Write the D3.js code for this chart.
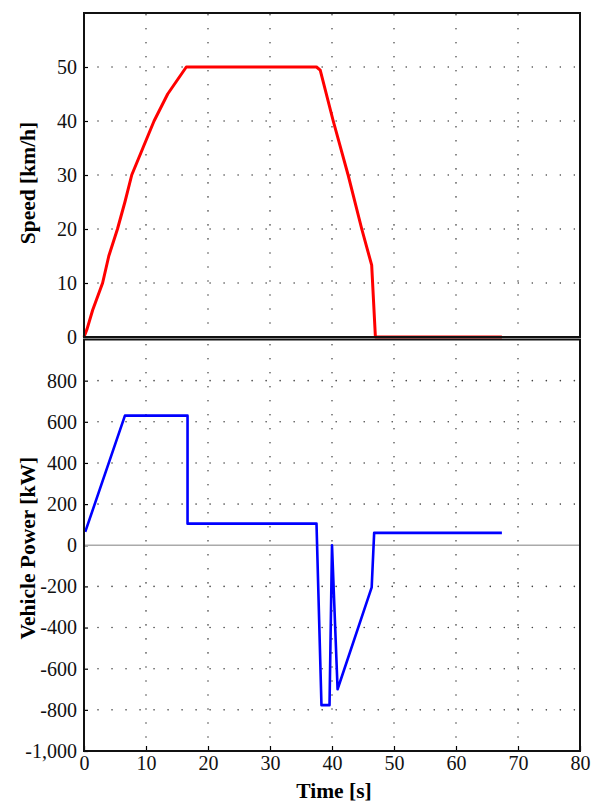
<!DOCTYPE html>
<html>
<head>
<meta charset="utf-8">
<script src="https://cdn.jsdelivr.net/npm/d3@7"></script>
<style>
  body { margin: 0; background: #fff; }
  svg { display: block; }
  svg text { font-family: "Liberation Serif", "Times New Roman", serif; }
</style>
</head>
<body>
<svg id="chart"></svg>
<script>
// speed trace (top panel)
const speedTime = [0, 0.5, 1.4, 3.0, 4.0, 5.4, 6.6, 7.7, 9.5, 11.3, 13.5, 16.5, 37.5, 38.1, 40.2, 42.6, 44.8, 46.4, 47.0, 67.4]
const speedValues = [0, 1.5, 5, 10, 15, 20, 25, 30, 35, 40, 45, 50, 50, 49.4, 40, 30, 20, 13.3, 0, 0]

// vehicle power trace (bottom panel)
const powerTime = [0.2, 6.6, 16.7, 16.7, 37.5, 38.3, 39.6, 40.0, 40.9, 46.4, 46.8, 67.4]
const powerValues = [65, 630, 630, 105, 105, -777, -777, 0, -700, -205, 60, 60]

const xTicks = [0, 10, 20, 30, 40, 50, 60, 70, 80]
const speedTicks = [0, 10, 20, 30, 40, 50]
const powerTicks = [-1000, -800, -600, -400, -200, 0, 200, 400, 600, 800]

const w = 593, h = 803
const left = 84, right = 580
const tickFont = 20, titleFont = 21.5

const svg = d3.select('#chart')
    .attr('width', w)
    .attr('height', h)

const x = d3.scaleLinear().domain([0, 80]).range([left, right])
const ySpeed = d3.scaleLinear().domain([0, 60]).range([337, 13])
const yPower = d3.scaleLinear().domain([-1000, 1000]).range([751, 339.5])

// plain hyphen for negatives, like the original
const commaFmt = d => d3.format(',')(d).replace('\u2212', '-')

const gridStyle = sel => sel
    .attr('stroke', '#444')
    .attr('stroke-width', 1.6)
    .attr('stroke-linecap', 'round')
    .attr('stroke-dasharray', '0.01,14')
    .attr('fill', 'none')

const styleAxis = g => {
    g.attr('font-family', null).attr('font-size', null)
    g.select('.domain').remove()
    g.selectAll('.tick line').attr('stroke', '#000').attr('stroke-width', 1.2)
    g.selectAll('.tick text')
        .style('font-family', '"Liberation Serif", "Times New Roman", serif')
        .style('font-size', tickFont + 'px')
        .attr('fill', '#111')
}

function panel(y, yTicks, gridY, fmt) {
    const g = svg.append('g')
    const [y0, y1] = y.range()

    // dotted grid
    g.selectAll('.vgrid')
        .data(xTicks.filter(d => d > 0 && d < 80))
        .join('line')
            .attr('x1', d => x(d)).attr('x2', d => x(d))
            .attr('y1', y0).attr('y2', y1)
            .call(gridStyle)
    g.selectAll('.hgrid')
        .data(gridY)
        .join('line')
            .attr('x1', left).attr('x2', right)
            .attr('y1', d => y(d)).attr('y2', d => y(d))
            .call(gridStyle)

    // y axis, ticks pointing inward
    const yAxis = d3.axisLeft(y)
        .tickValues(yTicks)
        .tickFormat(fmt)
        .tickSize(-4)
        .tickPadding(7)
    g.append('g')
        .attr('transform', `translate(${left},0)`)
        .call(yAxis)
        .call(styleAxis)
    return g
}

const speedPanel = panel(ySpeed, speedTicks, [10, 20, 30, 40, 50], d3.format('d'))
const powerPanel = panel(yPower, powerTicks, [-800, -600, -400, -200, 200, 400, 600, 800], commaFmt)

// zero line in power panel
powerPanel.append('line')
    .attr('x1', left).attr('x2', right)
    .attr('y1', yPower(0)).attr('y2', yPower(0))
    .attr('stroke', '#aaa')
    .attr('stroke-width', 1.5)

// x axis at bottom
const xAxis = d3.axisBottom(x)
    .tickValues(xTicks)
    .tickSize(-5)
    .tickPadding(5)
svg.append('g')
    .attr('transform', `translate(0,${yPower(-1000)})`)
    .call(xAxis)
    .call(styleAxis)

// lines
const speedLine = d3.line()
    .x((d, i) => x(speedTime[i]))
    .y(d => ySpeed(d))
svg.append('path')
    .datum(speedValues)
    .attr('d', speedLine)
    .attr('fill', 'none')
    .attr('stroke', '#ff0000')
    .attr('stroke-width', 3)
    .attr('stroke-linejoin', 'round')

const powerLine = d3.line()
    .x((d, i) => x(powerTime[i]))
    .y(d => yPower(d))
svg.append('path')
    .datum(powerValues)
    .attr('d', powerLine)
    .attr('fill', 'none')
    .attr('stroke', '#0000ff')
    .attr('stroke-width', 2.6)
    .attr('stroke-linejoin', 'round')

// panel frames
;[ySpeed, yPower].forEach(y => {
    const [y0, y1] = y.range()
    svg.append('rect')
        .attr('x', left).attr('y', y1)
        .attr('width', right - left).attr('height', y0 - y1)
        .attr('fill', 'none')
        .attr('stroke', '#111')
        .attr('stroke-width', 2)
})

// axis titles
svg.append('text')
    .attr('transform', `translate(35,${(ySpeed(0) + ySpeed(60)) / 2 + 8}) rotate(-90)`)
    .attr('text-anchor', 'middle')
    .style('font-size', titleFont + 'px')
    .attr('font-weight', 'bold')
    .text('Speed [km/h]')
svg.append('text')
    .attr('transform', `translate(35,${(yPower(-1000) + yPower(1000)) / 2 + 3}) rotate(-90)`)
    .attr('text-anchor', 'middle')
    .style('font-size', titleFont + 'px')
    .attr('font-weight', 'bold')
    .text('Vehicle Power [kW]')
svg.append('text')
    .attr('x', 334)
    .attr('y', 798)
    .attr('text-anchor', 'middle')
    .style('font-size', titleFont + 'px')
    .attr('font-weight', 'bold')
    .text('Time [s]')
</script>
</body>
</html>
